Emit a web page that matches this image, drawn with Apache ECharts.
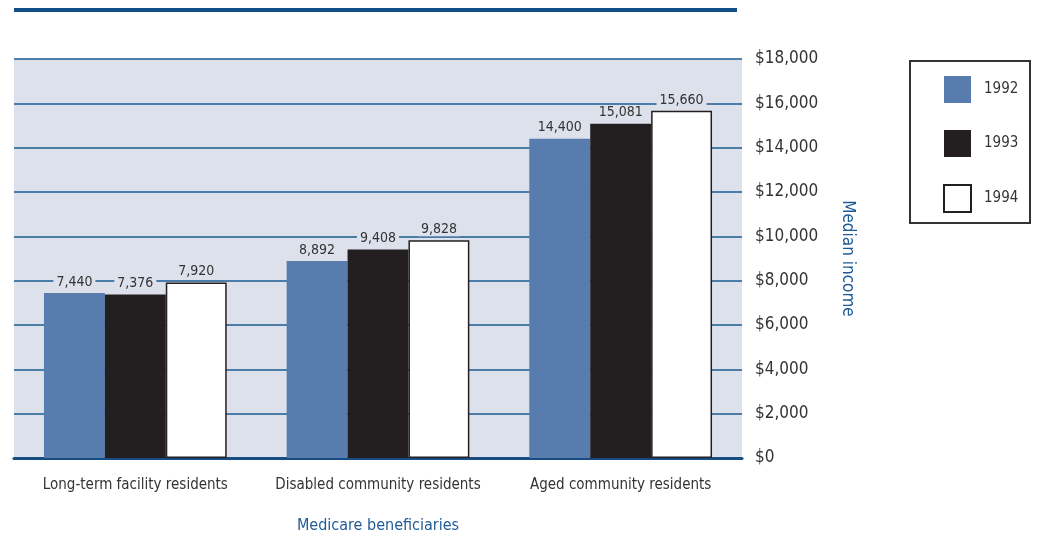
<!DOCTYPE html>
<html>
<head>
<meta charset="utf-8">
<script src="https://cdn.jsdelivr.net/npm/echarts@6/dist/echarts.min.js"></script>
<style>
html,body{margin:0;padding:0;background:#fff;}
#c{width:1047px;height:536px;}
</style>
</head>
<body>
<div id="c"></div>
<script>
const categories = ['Long-term facility residents', 'Disabled community residents', 'Aged community residents'];
const seriesNames = ['1992', '1993', '1994'];
const values1992 = [7440, 8892, 14400];
const values1993 = [7376, 9408, 15081];
const values1994 = [7920, 9828, 15660];
const yTicks = [0, 2000, 4000, 6000, 8000, 10000, 12000, 14000, 16000, 18000];

const FONT = "'DejaVu Sans Condensed', 'Liberation Sans Narrow', sans-serif";
const BG = '#dce1ec';
const BLUE_LINE = '#1d5a92';
const TXT = '#333333';

const fmt = v => v.toLocaleString('en-US');

const chart = echarts.init(document.getElementById('c'), null, {renderer: 'canvas'});

function labelCfg() {
  return {
    show: true,
    position: 'top',
    distance: 4,
    formatter: p => fmt(p.value),
    color: TXT,
    fontFamily: FONT,
    fontSize: 14,
    backgroundColor: BG,
    padding: [0, 3, 0, 3]
  };
}

const option = {
  animation: false,
  backgroundColor: '#ffffff',
  textStyle: {fontFamily: FONT},
  grid: {
    left: 14, right: 305, top: 59, bottom: 78,
    show: true, backgroundColor: BG, borderWidth: 0,
    containLabel: false, outerBoundsMode: 'none'
  },
  legend: {
    data: seriesNames,
    orient: 'vertical',
    left: 943, top: 76,
    padding: 0,
    icon: 'rect',
    itemWidth: 27, itemHeight: 27, itemGap: 27,
    textStyle: {fontFamily: FONT, fontSize: 15, color: TXT, padding: [0, 0, 0, 8]},
    selectedMode: false
  },
  xAxis: {
    type: 'category',
    data: categories,
    axisLine: {show: true, lineStyle: {color: '#174d82', width: 3}},
    axisTick: {show: false},
    axisLabel: {fontFamily: FONT, fontSize: 15, color: TXT, margin: 20, interval: 0},
    name: 'Medicare beneficiaries',
    nameLocation: 'middle',
    nameGap: 60,
    nameTextStyle: {fontFamily: FONT, fontSize: 16, color: '#1f5b96'}
  },
  yAxis: {
    type: 'value',
    position: 'right',
    min: yTicks[0], max: yTicks[yTicks.length - 1], interval: 2000,
    axisLine: {show: false},
    axisTick: {show: false},
    splitLine: {show: true, lineStyle: {color: BLUE_LINE, width: 1.5}},
    axisLabel: {fontFamily: FONT, fontSize: 17, color: TXT, margin: 13, formatter: v => '$' + fmt(v)},
    name: 'Median income',
    nameLocation: 'middle',
    nameRotate: -90,
    nameGap: 97,
    nameTextStyle: {fontFamily: FONT, fontSize: 17, color: '#1f5b96'}
  },
  graphic: [
    {type: 'rect', shape: {x: 14, y: 8, width: 723, height: 4}, style: {fill: '#0d4f86'}, z: 10},
    {type: 'rect', shape: {x: 910, y: 61, width: 120, height: 162}, style: {fill: 'none', stroke: '#333333', lineWidth: 2}, z: 10}
  ],
  series: [
    {
      name: seriesNames[0], type: 'bar', data: values1992,
      barGap: '0%', barCategoryGap: '24.7%',
      itemStyle: {color: '#587cad'},
      label: labelCfg()
    },
    {
      name: seriesNames[1], type: 'bar', data: values1993,
      barGap: '0%', barCategoryGap: '24.7%',
      itemStyle: {color: '#231f20'},
      label: labelCfg()
    },
    {
      name: seriesNames[2], type: 'bar', data: values1994,
      barGap: '0%', barCategoryGap: '24.7%',
      itemStyle: {color: '#ffffff', borderColor: '#231f20', borderWidth: 1.5},
      label: labelCfg()
    }
  ]
};
chart.setOption(option);
</script>
</body>
</html>
